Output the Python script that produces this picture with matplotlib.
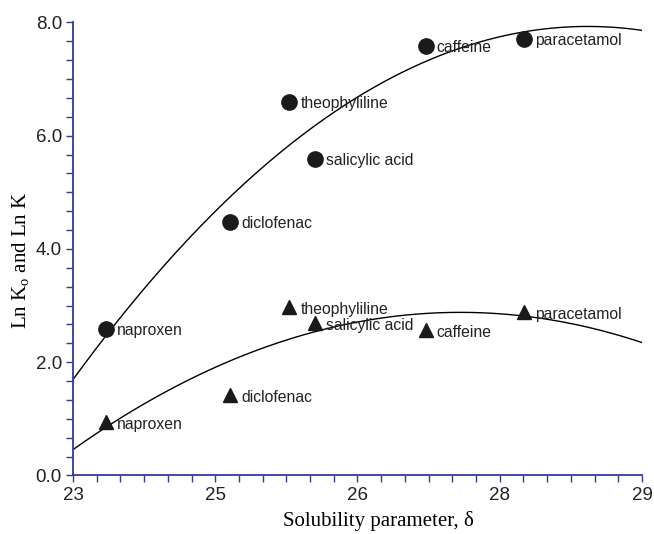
import matplotlib.pyplot as plt
import numpy as np
from matplotlib.ticker import MultipleLocator

# data
drugs = ['naproxen', 'diclofenac', 'theophyliline', 'salicylic acid', 'caffeine', 'paracetamol']
delta = [23.35, 24.66, 25.28, 25.55, 26.72, 27.76]
ln_k0 = [2.58, 4.48, 6.60, 5.59, 7.59, 7.71]
ln_k = [0.95, 1.42, 2.98, 2.69, 2.57, 2.89]

x_ticks = [23, 24.5, 26, 27.5, 29]
x_ticklabels = ['23', '25', '26', '28', '29']

axis_blue = '#34399a'

fig = plt.figure(figsize=(6.54, 5.34), dpi=100)
ax = fig.add_axes([0.1116, 0.1096, 0.8700, 0.8484])

# quadratic fits
xs = np.linspace(23, 29, 200)
for yvals in [ln_k0, ln_k]:
    coef = np.polyfit(delta, yvals, 2)
    ax.plot(xs, np.polyval(coef, xs), color='black', lw=1.0)

ax.plot(delta, ln_k0, 'o', color='#1a1a1a', ms=11, zorder=3)
ax.plot(delta, ln_k, '^', color='#1a1a1a', ms=10, zorder=3)

for name, x, y0, y1 in zip(drugs, delta, ln_k0, ln_k):
    ax.annotate(name, (x, y0), xytext=(8, -1), textcoords='offset points',
                ha='left', va='center', fontsize=11.3, family='Liberation Sans', color='#222222')
    ax.annotate(name, (x, y1), xytext=(8, -2), textcoords='offset points',
                ha='left', va='center', fontsize=11.3, family='Liberation Sans', color='#222222')

ax.set_xlim(23, 29)
ax.set_ylim(0, 8)
ax.set_xticks(x_ticks)
ax.set_xticklabels(x_ticklabels)
ax.xaxis.set_minor_locator(MultipleLocator(0.25))
ax.set_yticks([0, 2, 4, 6, 8])
ax.set_yticklabels(['0.0', '2.0', '4.0', '6.0', '8.0'])
ax.yaxis.set_minor_locator(MultipleLocator(1 / 3))

for s in ['top', 'right']:
    ax.spines[s].set_visible(False)
for s in ['left', 'bottom']:
    ax.spines[s].set_color(axis_blue)
    ax.spines[s].set_linewidth(1.3)

ax.tick_params(which='both', direction='out', color=axis_blue, width=1.0, length=5)
ax.tick_params(labelsize=13.5, pad=3)
for lab in ax.get_xticklabels() + ax.get_yticklabels():
    lab.set_family('Liberation Sans')
    lab.set_color('#222222')

ax.set_xlabel('Solubility parameter, δ', fontsize=15, family='Liberation Serif')
ax.set_ylabel('Ln K$_\\mathregular{o}$ and Ln K', fontsize=15, family='Liberation Serif')
ax.xaxis.set_label_coords(0.536, -0.078)
ax.yaxis.set_label_coords(-0.072, 0.474)

plt.savefig('out.png', dpi=100)
